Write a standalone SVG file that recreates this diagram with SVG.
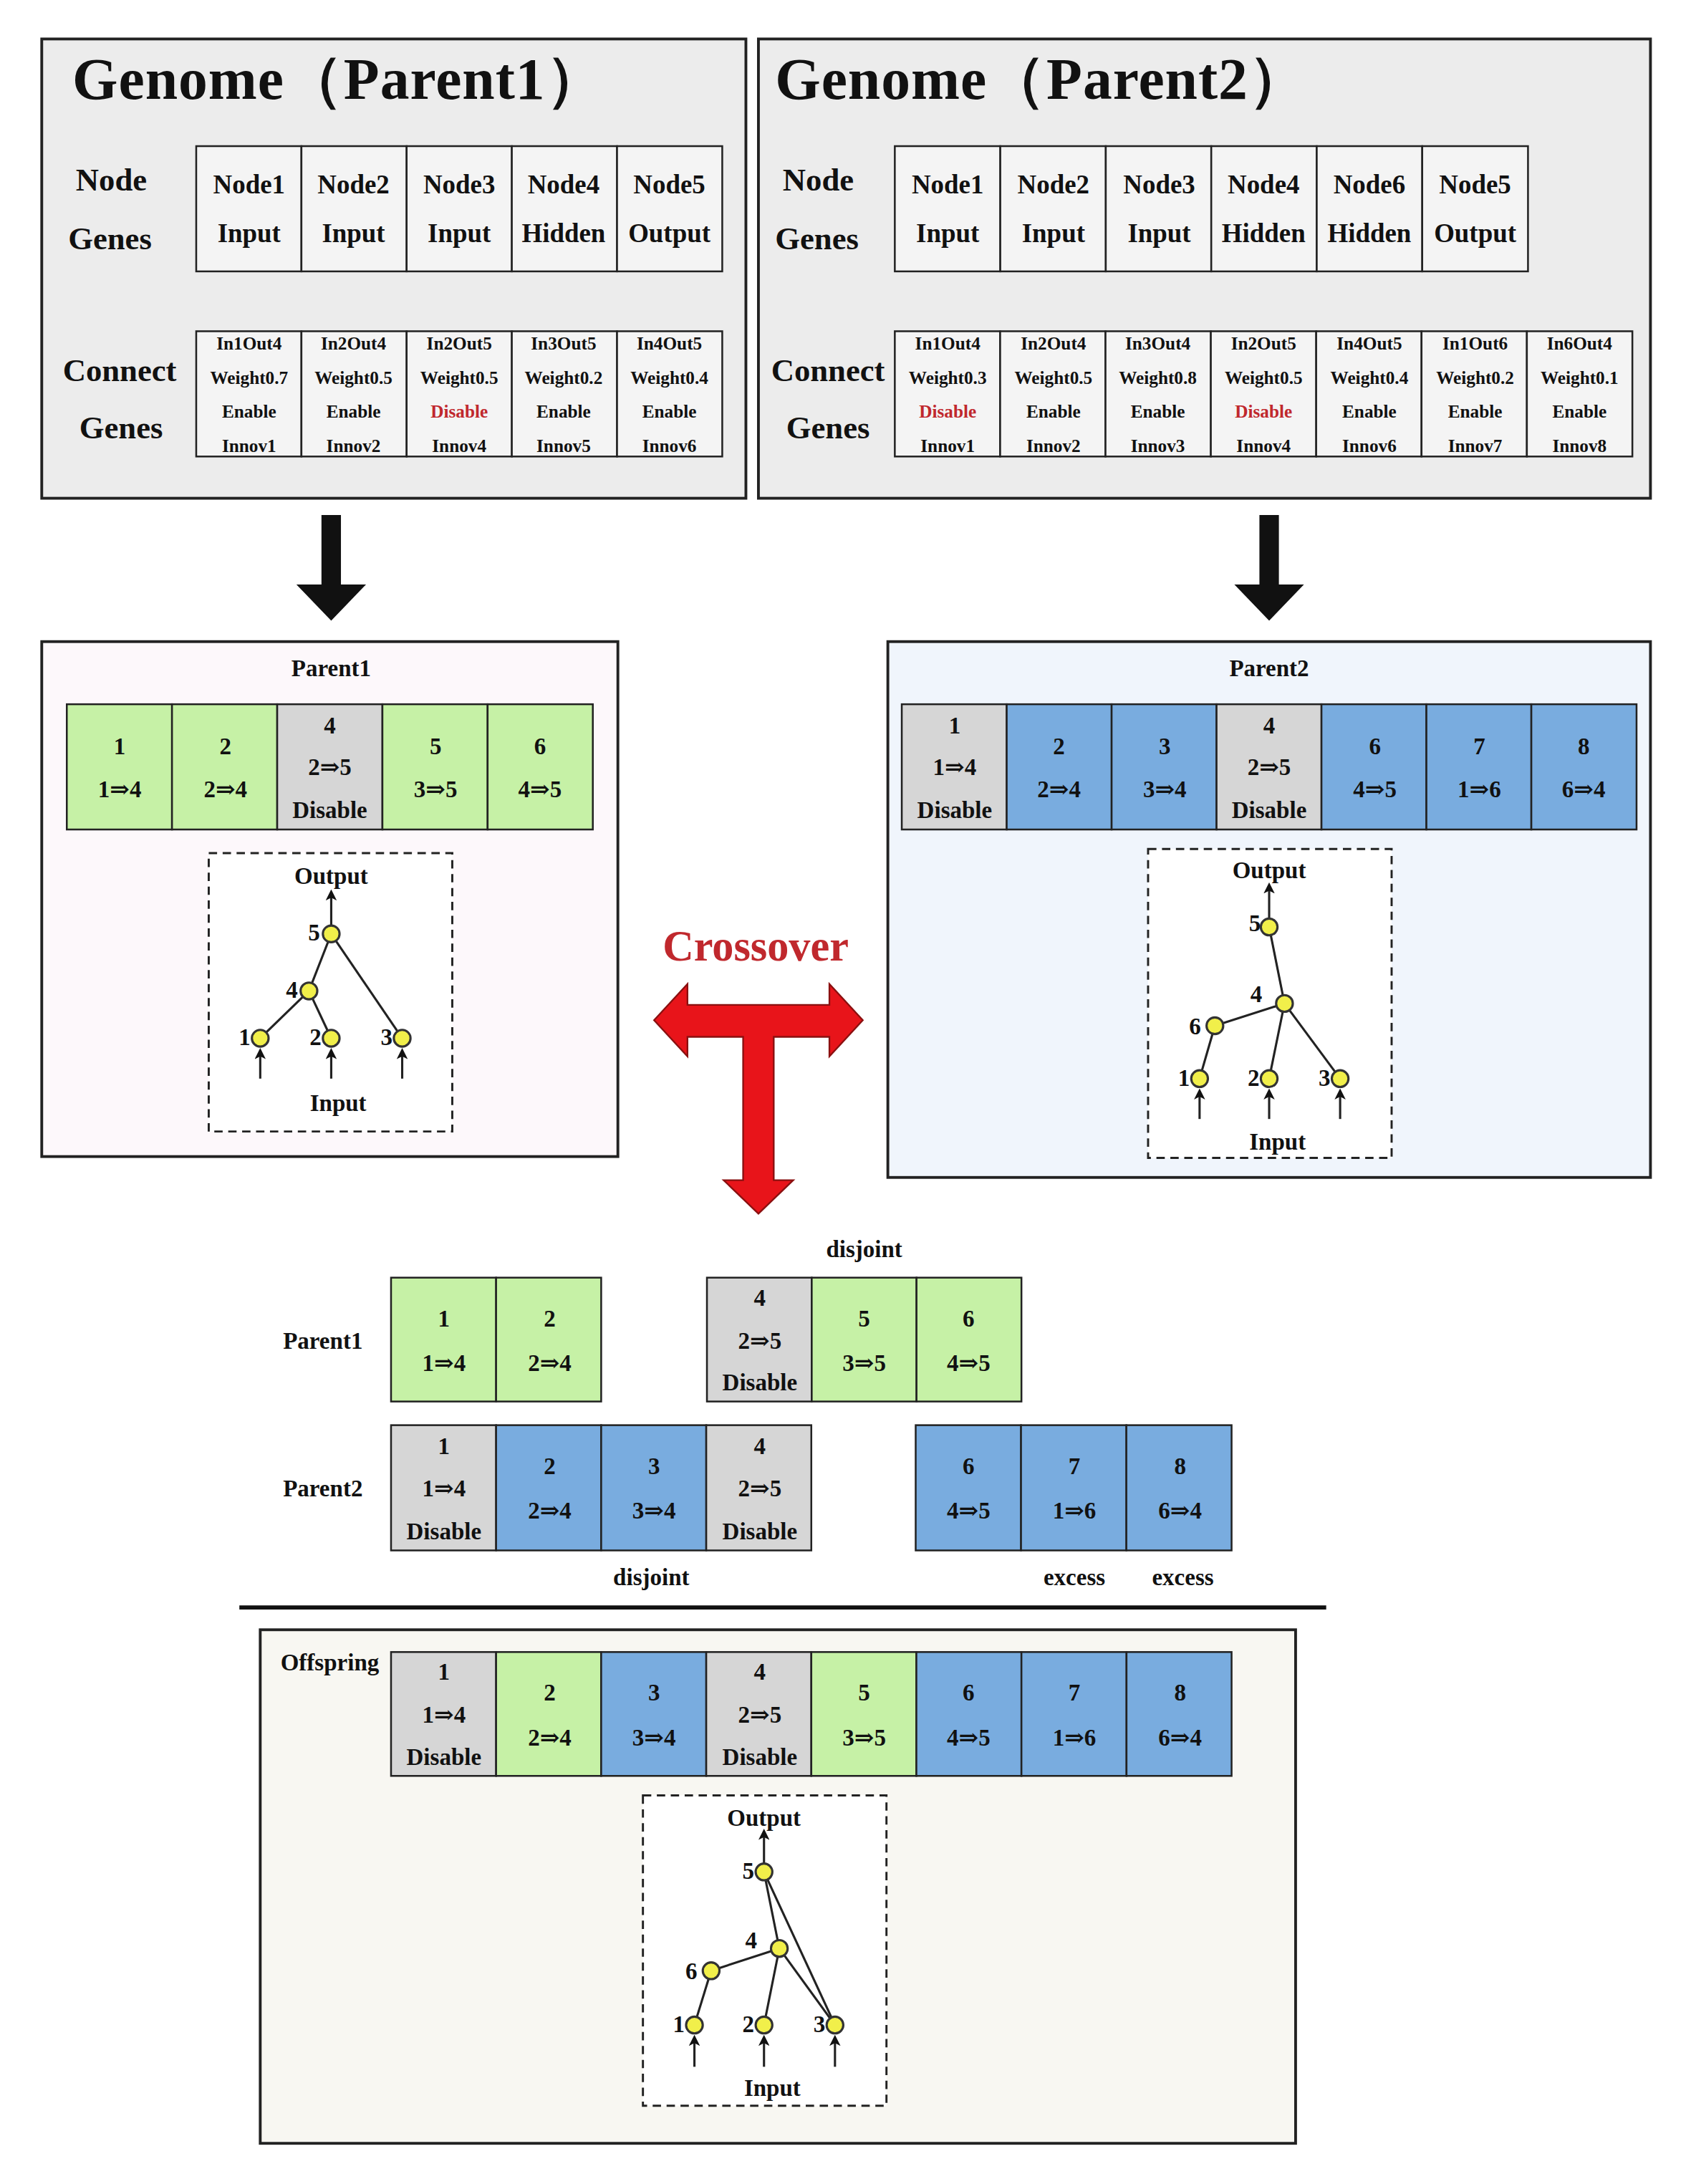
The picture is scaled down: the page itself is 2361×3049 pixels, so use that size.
<svg xmlns="http://www.w3.org/2000/svg" width="2361" height="3049" viewBox="0 0 2361 3049">
<style>
text{font-family:"Liberation Serif","DejaVu Serif",serif;font-weight:bold;fill:#111;text-anchor:middle}
.big{font-size:42px;text-anchor:start;letter-spacing:0.5px}
.lab{font-size:23px}
.nt{font-size:19px}
.ct{font-size:13px}
.cl{font-size:17px}
.tt{font-size:17px}
.red{fill:#c0282d}
.frame{stroke:#222;stroke-width:2}
.cell{stroke:#222;stroke-width:1.3}
.g{fill:#c6f1a6}.b{fill:#79acdf}.y{fill:#d6d6d6}.w{fill:#f4f4f4}
.dash{fill:#fff;stroke:#222;stroke-width:1.5;stroke-dasharray:6 4}
.e{stroke:#222;stroke-width:1.6;fill:none}
.n{fill:#f1ef4a;stroke:#333;stroke-width:1.6}
</style>
<defs>
<marker id="ah" markerWidth="8" markerHeight="8" refX="4" refY="4" orient="auto" markerUnits="userSpaceOnUse"><path d="M0,0 L8,4 L0,8 L2,4 Z" fill="#111"/></marker>
</defs>
<rect width="2361" height="3049" fill="#fff"/>
<g transform="scale(1.943)">
<g id="genome1">
<rect x="30" y="28" width="506" height="330" fill="#ececec" class="frame"/>
<text class="big" x="52" y="71">Genome（Parent1）</text>
<text class="lab" x="80" y="137">Node</text><text class="lab" x="79" y="179">Genes</text>
<text class="lab" x="86" y="274">Connect</text><text class="lab" x="87" y="315">Genes</text>
<g class="cell w"><rect x="141" y="105" width="75.6" height="90"/><rect x="216.6" y="105" width="75.6" height="90"/><rect x="292.2" y="105" width="75.6" height="90"/><rect x="367.8" y="105" width="75.6" height="90"/><rect x="443.4" y="105" width="75.6" height="90"/>
<rect x="141" y="238" width="75.6" height="90"/><rect x="216.6" y="238" width="75.6" height="90"/><rect x="292.2" y="238" width="75.6" height="90"/><rect x="367.8" y="238" width="75.6" height="90"/><rect x="443.4" y="238" width="75.6" height="90"/></g>
<g class="nt"><text x="179" y="139">Node1</text><text x="254" y="139">Node2</text><text x="330" y="139">Node3</text><text x="405" y="139">Node4</text><text x="481" y="139">Node5</text>
<text x="179" y="174">Input</text><text x="254" y="174">Input</text><text x="330" y="174">Input</text><text x="405" y="174">Hidden</text><text x="481" y="174">Output</text></g>
<g class="ct"><text x="179" y="251">In1Out4</text><text x="254" y="251">In2Out4</text><text x="330" y="251">In2Out5</text><text x="405" y="251">In3Out5</text><text x="481" y="251">In4Out5</text>
<text x="179" y="276">Weight0.7</text><text x="254" y="276">Weight0.5</text><text x="330" y="276">Weight0.5</text><text x="405" y="276">Weight0.2</text><text x="481" y="276">Weight0.4</text>
<text x="179" y="300">Enable</text><text x="254" y="300">Enable</text><text class="red" x="330" y="300">Disable</text><text x="405" y="300">Enable</text><text x="481" y="300">Enable</text>
<text x="179" y="325">Innov1</text><text x="254" y="325">Innov2</text><text x="330" y="325">Innov4</text><text x="405" y="325">Innov5</text><text x="481" y="325">Innov6</text></g>
</g>
<g id="genome2">
<rect x="545" y="28" width="641" height="330" fill="#ececec" class="frame"/>
<text class="big" x="557" y="71">Genome（Parent2）</text>
<text class="lab" x="588" y="137">Node</text><text class="lab" x="587" y="179">Genes</text>
<text class="lab" x="595" y="274">Connect</text><text class="lab" x="595" y="315">Genes</text>
<g class="cell w"><rect x="643" y="105" width="75.8" height="90"/><rect x="718.8" y="105" width="75.8" height="90"/><rect x="794.6" y="105" width="75.8" height="90"/><rect x="870.4" y="105" width="75.8" height="90"/><rect x="946.2" y="105" width="75.8" height="90"/><rect x="1022" y="105" width="76" height="90"/>
<rect x="643" y="238" width="75.7" height="90"/><rect x="718.7" y="238" width="75.7" height="90"/><rect x="794.4" y="238" width="75.7" height="90"/><rect x="870.1" y="238" width="75.7" height="90"/><rect x="945.8" y="238" width="75.7" height="90"/><rect x="1021.5" y="238" width="75.7" height="90"/><rect x="1097.2" y="238" width="75.8" height="90"/></g>
<g class="nt"><text x="681" y="139">Node1</text><text x="757" y="139">Node2</text><text x="833" y="139">Node3</text><text x="908" y="139">Node4</text><text x="984" y="139">Node6</text><text x="1060" y="139">Node5</text>
<text x="681" y="174">Input</text><text x="757" y="174">Input</text><text x="833" y="174">Input</text><text x="908" y="174">Hidden</text><text x="984" y="174">Hidden</text><text x="1060" y="174">Output</text></g>
<g class="ct"><text x="681" y="251">In1Out4</text><text x="757" y="251">In2Out4</text><text x="832" y="251">In3Out4</text><text x="908" y="251">In2Out5</text><text x="984" y="251">In4Out5</text><text x="1060" y="251">In1Out6</text><text x="1135" y="251">In6Out4</text>
<text x="681" y="276">Weight0.3</text><text x="757" y="276">Weight0.5</text><text x="832" y="276">Weight0.8</text><text x="908" y="276">Weight0.5</text><text x="984" y="276">Weight0.4</text><text x="1060" y="276">Weight0.2</text><text x="1135" y="276">Weight0.1</text>
<text class="red" x="681" y="300">Disable</text><text x="757" y="300">Enable</text><text x="832" y="300">Enable</text><text class="red" x="908" y="300">Disable</text><text x="984" y="300">Enable</text><text x="1060" y="300">Enable</text><text x="1135" y="300">Enable</text>
<text x="681" y="325">Innov1</text><text x="757" y="325">Innov2</text><text x="832" y="325">Innov3</text><text x="908" y="325">Innov4</text><text x="984" y="325">Innov6</text><text x="1060" y="325">Innov7</text><text x="1135" y="325">Innov8</text></g>
</g>
<g id="connectors">
<polygon points="231,370 245,370 245,420 263,420 238,446 213,420 231,420" fill="#111"/>
<polygon points="905,370 919,370 919,420 937,420 912,446 887,420 905,420" fill="#111"/>
<polygon points="470,733 494,707 494,722 596,722 596,707 620,733 596,759 596,745 556,745 556,848 570,848 545,872 520,848 534,848 534,745 494,745 494,759" fill="#e8141a" stroke="#8a1010" stroke-width="1.2"/>
</g>
<text class="red" x="543" y="690" style="font-size:31px">Crossover</text>
<g id="parent1">
<rect x="30" y="461" width="414" height="370" fill="#fdf8fb" class="frame"/>
<text class="tt" x="238" y="486">Parent1</text>
<g class="cell"><rect class="g" x="48" y="506" width="75.6" height="90"/><rect class="g" x="123.6" y="506" width="75.6" height="90"/><rect class="y" x="199.2" y="506" width="75.6" height="90"/><rect class="g" x="274.8" y="506" width="75.6" height="90"/><rect class="g" x="350.4" y="506" width="75.6" height="90"/></g>
<g class="cl"><text x="86" y="542">1</text><text x="86" y="573">1⇒4</text><text x="162" y="542">2</text><text x="162" y="573">2⇒4</text>
<text x="237" y="527">4</text><text x="237" y="557">2⇒5</text><text x="237" y="588">Disable</text>
<text x="313" y="542">5</text><text x="313" y="573">3⇒5</text><text x="388" y="542">6</text><text x="388" y="573">4⇒5</text></g>
<rect class="dash" x="150" y="613" width="175" height="200"/>
<text class="tt" x="238" y="635">Output</text><text class="tt" x="243" y="798">Input</text>
<g class="e"><line x1="238" y1="671" x2="222" y2="712"/><line x1="238" y1="671" x2="289" y2="746"/><line x1="222" y1="712" x2="187" y2="746"/><line x1="222" y1="712" x2="238" y2="746"/>
<line x1="238" y1="665" x2="238" y2="643" marker-end="url(#ah)"/><line x1="187" y1="775" x2="187" y2="757" marker-end="url(#ah)"/><line x1="238" y1="775" x2="238" y2="757" marker-end="url(#ah)"/><line x1="289" y1="775" x2="289" y2="757" marker-end="url(#ah)"/></g>
<g class="n"><circle cx="238" cy="671" r="6"/><circle cx="222" cy="712" r="6"/><circle cx="187" cy="746" r="6"/><circle cx="238" cy="746" r="6"/><circle cx="289" cy="746" r="6"/></g>
<g class="tt"><text x="230" y="676" style="text-anchor:end">5</text><text x="214" y="717" style="text-anchor:end">4</text><text x="180" y="751" style="text-anchor:end">1</text><text x="231" y="751" style="text-anchor:end">2</text><text x="282" y="751" style="text-anchor:end">3</text></g>
</g>
<g id="parent2">
<rect x="638" y="461" width="548" height="385" fill="#f0f5fc" class="frame"/>
<text class="tt" x="912" y="486">Parent2</text>
<g class="cell"><rect class="y" x="648" y="506" width="75.4" height="90"/><rect class="b" x="723.4" y="506" width="75.4" height="90"/><rect class="b" x="798.8" y="506" width="75.4" height="90"/><rect class="y" x="874.2" y="506" width="75.4" height="90"/><rect class="b" x="949.6" y="506" width="75.4" height="90"/><rect class="b" x="1025" y="506" width="75.4" height="90"/><rect class="b" x="1100.4" y="506" width="75.6" height="90"/></g>
<g class="cl"><text x="686" y="527">1</text><text x="686" y="557">1⇒4</text><text x="686" y="588">Disable</text>
<text x="761" y="542">2</text><text x="761" y="573">2⇒4</text><text x="837" y="542">3</text><text x="837" y="573">3⇒4</text>
<text x="912" y="527">4</text><text x="912" y="557">2⇒5</text><text x="912" y="588">Disable</text>
<text x="988" y="542">6</text><text x="988" y="573">4⇒5</text><text x="1063" y="542">7</text><text x="1063" y="573">1⇒6</text><text x="1138" y="542">8</text><text x="1138" y="573">6⇒4</text></g>
<rect class="dash" x="825" y="610" width="175" height="222"/>
<text class="tt" x="912" y="631">Output</text><text class="tt" x="918" y="826">Input</text>
<g class="e"><line x1="912" y1="666" x2="923" y2="721"/><line x1="923" y1="721" x2="873" y2="737"/><line x1="923" y1="721" x2="912" y2="775"/><line x1="923" y1="721" x2="963" y2="775"/><line x1="873" y1="737" x2="862" y2="775"/>
<line x1="912" y1="660" x2="912" y2="638" marker-end="url(#ah)"/><line x1="862" y1="804" x2="862" y2="786" marker-end="url(#ah)"/><line x1="912" y1="804" x2="912" y2="786" marker-end="url(#ah)"/><line x1="963" y1="804" x2="963" y2="786" marker-end="url(#ah)"/></g>
<g class="n"><circle cx="912" cy="666" r="6"/><circle cx="923" cy="721" r="6"/><circle cx="873" cy="737" r="6"/><circle cx="862" cy="775" r="6"/><circle cx="912" cy="775" r="6"/><circle cx="963" cy="775" r="6"/></g>
<g class="tt"><text x="906" y="669" style="text-anchor:end">5</text><text x="907" y="720" style="text-anchor:end">4</text><text x="863" y="743" style="text-anchor:end">6</text><text x="855" y="780" style="text-anchor:end">1</text><text x="905" y="780" style="text-anchor:end">2</text><text x="956" y="780" style="text-anchor:end">3</text></g>
</g>
<g id="alignment">
<text class="tt" x="621" y="903">disjoint</text>
<text class="tt" x="232" y="969">Parent1</text><text class="tt" x="232" y="1075">Parent2</text>
<g class="cell"><rect class="g" x="281" y="918" width="75.5" height="89"/><rect class="g" x="356.5" y="918" width="75.5" height="89"/>
<rect class="y" x="508" y="918" width="75.3" height="89"/><rect class="g" x="583.3" y="918" width="75.3" height="89"/><rect class="g" x="658.6" y="918" width="75.4" height="89"/>
<rect class="y" x="281" y="1024" width="75.5" height="90"/><rect class="b" x="356.5" y="1024" width="75.5" height="90"/><rect class="b" x="432" y="1024" width="75.5" height="90"/><rect class="y" x="507.5" y="1024" width="75.5" height="90"/>
<rect class="b" x="658" y="1024" width="75.7" height="90"/><rect class="b" x="733.7" y="1024" width="75.7" height="90"/><rect class="b" x="809.4" y="1024" width="75.6" height="90"/></g>
<g class="cl"><text x="319" y="953">1</text><text x="319" y="985">1⇒4</text><text x="395" y="953">2</text><text x="395" y="985">2⇒4</text>
<text x="546" y="938">4</text><text x="546" y="969">2⇒5</text><text x="546" y="999">Disable</text>
<text x="621" y="953">5</text><text x="621" y="985">3⇒5</text><text x="696" y="953">6</text><text x="696" y="985">4⇒5</text>
<text x="319" y="1045">1</text><text x="319" y="1075">1⇒4</text><text x="319" y="1106">Disable</text>
<text x="395" y="1059">2</text><text x="395" y="1091">2⇒4</text><text x="470" y="1059">3</text><text x="470" y="1091">3⇒4</text>
<text x="546" y="1045">4</text><text x="546" y="1075">2⇒5</text><text x="546" y="1106">Disable</text>
<text x="696" y="1059">6</text><text x="696" y="1091">4⇒5</text><text x="772" y="1059">7</text><text x="772" y="1091">1⇒6</text><text x="848" y="1059">8</text><text x="848" y="1091">6⇒4</text></g>
<text class="tt" x="468" y="1139">disjoint</text><text class="tt" x="772" y="1139">excess</text><text class="tt" x="850" y="1139">excess</text>
<line x1="172" y1="1155" x2="953" y2="1155" stroke="#111" stroke-width="3"/>
</g>
<g id="offspring">
<rect x="187" y="1171" width="744" height="369" fill="#f8f7f2" class="frame"/>
<text class="tt" x="237" y="1200">Offspring</text>
<g class="cell"><rect class="y" x="281" y="1187" width="75.5" height="89"/><rect class="g" x="356.5" y="1187" width="75.5" height="89"/><rect class="b" x="432" y="1187" width="75.5" height="89"/><rect class="y" x="507.5" y="1187" width="75.5" height="89"/><rect class="g" x="583" y="1187" width="75.5" height="89"/><rect class="b" x="658.5" y="1187" width="75.5" height="89"/><rect class="b" x="734" y="1187" width="75.5" height="89"/><rect class="b" x="809.5" y="1187" width="75.5" height="89"/></g>
<g class="cl"><text x="319" y="1207">1</text><text x="319" y="1238">1⇒4</text><text x="319" y="1268">Disable</text>
<text x="395" y="1222">2</text><text x="395" y="1254">2⇒4</text><text x="470" y="1222">3</text><text x="470" y="1254">3⇒4</text>
<text x="546" y="1207">4</text><text x="546" y="1238">2⇒5</text><text x="546" y="1268">Disable</text>
<text x="621" y="1222">5</text><text x="621" y="1254">3⇒5</text><text x="696" y="1222">6</text><text x="696" y="1254">4⇒5</text><text x="772" y="1222">7</text><text x="772" y="1254">1⇒6</text><text x="848" y="1222">8</text><text x="848" y="1254">6⇒4</text></g>
<rect class="dash" x="462" y="1290" width="175" height="223"/>
<text class="tt" x="549" y="1312">Output</text><text class="tt" x="555" y="1506">Input</text>
<g class="e"><line x1="549" y1="1345" x2="560" y2="1400"/><line x1="549" y1="1345" x2="600" y2="1455"/><line x1="560" y1="1400" x2="511" y2="1416"/><line x1="560" y1="1400" x2="549" y2="1455"/><line x1="560" y1="1400" x2="600" y2="1455"/><line x1="511" y1="1416" x2="499" y2="1455"/>
<line x1="549" y1="1339" x2="549" y2="1318" marker-end="url(#ah)"/><line x1="499" y1="1485" x2="499" y2="1466" marker-end="url(#ah)"/><line x1="549" y1="1485" x2="549" y2="1466" marker-end="url(#ah)"/><line x1="600" y1="1485" x2="600" y2="1466" marker-end="url(#ah)"/></g>
<g class="n"><circle cx="549" cy="1345" r="6"/><circle cx="560" cy="1400" r="6"/><circle cx="511" cy="1416" r="6"/><circle cx="499" cy="1455" r="6"/><circle cx="549" cy="1455" r="6"/><circle cx="600" cy="1455" r="6"/></g>
<g class="tt"><text x="542" y="1350" style="text-anchor:end">5</text><text x="544" y="1400" style="text-anchor:end">4</text><text x="501" y="1422" style="text-anchor:end">6</text><text x="492" y="1460" style="text-anchor:end">1</text><text x="542" y="1460" style="text-anchor:end">2</text><text x="593" y="1460" style="text-anchor:end">3</text></g>
</g>
</g>
</svg>
